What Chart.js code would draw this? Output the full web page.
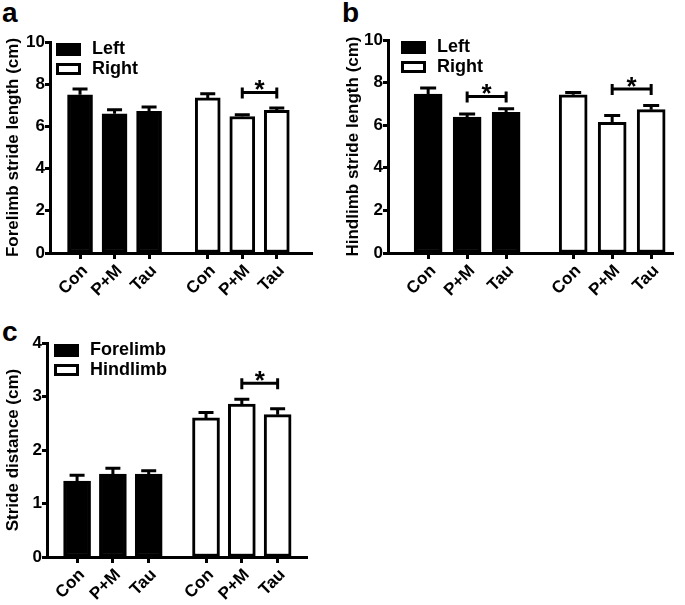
<!DOCTYPE html>
<html>
<head>
<meta charset="utf-8">
<script src="https://cdn.jsdelivr.net/npm/chart.js@4.4.1/dist/chart.umd.min.js"></script>
<style>
  html, body { margin: 0; padding: 0; background: #fff; }
  body { width: 685px; height: 605px; position: relative; overflow: hidden; }
  .wrap { position: absolute; }
  .letter { position: absolute; font: bold 28px "Liberation Sans", Arial, sans-serif; color: #000; line-height: 1; }
</style>
</head>
<body>
<div class="letter" style="left:2px;top:-1px;">a</div>
<div class="letter" style="left:342px;top:-1px;">b</div>
<div class="letter" style="left:2px;top:318px;">c</div>
<div class="wrap" style="left:0;top:0;width:340px;height:300px;"><canvas id="ca"></canvas></div>
<div class="wrap" style="left:340px;top:0;width:345px;height:300px;"><canvas id="cb"></canvas></div>
<div class="wrap" style="left:0;top:300px;width:340px;height:305px;"><canvas id="cc"></canvas></div>
<script>
// ---- data ----
const categories = ['Con', 'P+M', 'Tau'];

const aSeries = ['Left', 'Right'];
const aLeft = [7.50, 6.60, 6.71];
const aLeftSem = [0.27, 0.19, 0.21];
const aRight = [7.35, 6.47, 6.76];
const aRightSem = [0.20, 0.08, 0.11];
const aTicks = [0, 2, 4, 6, 8, 10];
const aSig = [{ group: 1, from: 1, to: 2, y: 7.61 }];

const bSeries = ['Left', 'Right'];
const bLeft = [7.46, 6.38, 6.60];
const bLeftSem = [0.29, 0.14, 0.17];
const bRight = [7.43, 6.13, 6.73];
const bRightSem = [0.11, 0.32, 0.19];
const bTicks = [0, 2, 4, 6, 8, 10];
const bSig = [{ group: 0, from: 1, to: 2, y: 7.35 }, { group: 1, from: 1, to: 2, y: 7.70 }];

const cSeries = ['Forelimb', 'Hindlimb'];
const cFore = [1.42, 1.55, 1.55];
const cForeSem = [0.11, 0.11, 0.06];
const cHind = [2.60, 2.86, 2.66];
const cHindSem = [0.10, 0.09, 0.11];
const cTicks = [0, 1, 2, 3, 4];
const cSig = [{ group: 1, from: 1, to: 2, y: 3.25 }];

// ---- rendering ----
const FONT = '"Liberation Sans", Arial, sans-serif';

function makeChart(id, cfg) {
  const pos = (g, i) => i + g * cfg.groupGap;
  const positions = [0, 1, 2].map(i => pos(0, i)).concat([0, 1, 2].map(i => pos(1, i)));
  const labels = categories.concat(categories);

  const errPlugin = {
    id: 'err',
    afterDatasetsDraw(chart) {
      const ctx = chart.ctx, ys = chart.scales.y, xs = chart.scales.x;
      ctx.save();
      ctx.strokeStyle = '#000';
      ctx.lineWidth = 3;
      chart.data.datasets.forEach((ds, di) => {
        const meta = chart.getDatasetMeta(di);
        meta.data.forEach((bar, i) => {
          const v = ds.data[i].y, s = ds.sem[i];
          const top = ys.getPixelForValue(v);
          const e = ys.getPixelForValue(v + s);
          const x = bar.x, hw = cfg.capW / 2;
          ctx.beginPath();
          ctx.moveTo(x, top); ctx.lineTo(x, e);
          ctx.moveTo(x - hw, e); ctx.lineTo(x + hw, e);
          ctx.stroke();
        });
      });
      // significance brackets
      ctx.font = 'bold 26px ' + FONT;
      ctx.fillStyle = '#000';
      ctx.textAlign = 'center';
      ctx.textBaseline = 'alphabetic';
      cfg.sig.forEach(sg => {
        const x1 = xs.getPixelForValue(pos(sg.group, sg.from));
        const x2 = xs.getPixelForValue(pos(sg.group, sg.to));
        const y = ys.getPixelForValue(sg.y);
        ctx.beginPath();
        ctx.moveTo(x1, y); ctx.lineTo(x2, y);
        ctx.moveTo(x1, y - 5); ctx.lineTo(x1, y + 6);
        ctx.moveTo(x2, y - 5); ctx.lineTo(x2, y + 6);
        ctx.stroke();
        ctx.fillText('*', (x1 + x2) / 2, y + 6);
      });
      ctx.restore();
    },
    afterDraw(chart) {
      // legend
      const ctx = chart.ctx, ca = chart.chartArea;
      ctx.save();
      ctx.font = 'bold 18px ' + FONT;
      ctx.textBaseline = 'middle';
      ctx.textAlign = 'left';
      cfg.series.forEach((name, k) => {
        const bx = ca.left + cfg.legX, by = ca.top + 1 + k * 20;
        if (k === 0) {
          ctx.fillStyle = '#000';
          ctx.fillRect(bx, by, 25, 13);
        } else {
          ctx.fillStyle = '#fff';
          ctx.fillRect(bx, by, 25, 11);
          ctx.strokeStyle = '#000';
          ctx.lineWidth = 3;
          ctx.strokeRect(bx + 1.5, by + 1.5, 22, 9);
        }
        ctx.fillStyle = '#000';
        ctx.fillText(name, bx + 36, by + 6.5);
      });
      ctx.restore();
    }
  };

  return new Chart(document.getElementById(id), {
    type: 'bar',
    data: {
      datasets: [
        {
          label: cfg.series[0],
          data: cfg.v0.map((v, i) => ({ x: pos(0, i), y: v })),
          sem: cfg.s0,
          backgroundColor: '#000', borderColor: '#000'
        },
        {
          label: cfg.series[1],
          data: cfg.v1.map((v, i) => ({ x: pos(1, i), y: v })),
          sem: cfg.s1,
          backgroundColor: '#fff', borderColor: '#000'
        }
      ]
    },
    options: {
      responsive: true,
      maintainAspectRatio: false,
      animation: false,
      events: [],
      layout: { padding: { top: cfg.padTop, right: cfg.padRight, left: 0, bottom: 0 } },
      datasets: { bar: { barThickness: cfg.barW, grouped: false, borderWidth: 3, borderSkipped: false } },
      plugins: { legend: { display: false }, tooltip: { enabled: false } },
      scales: {
        x: {
          type: 'linear',
          min: cfg.xMin, max: cfg.xMax,
          offset: false,
          afterBuildTicks: s => { s.ticks = positions.map(v => ({ value: v })); },
          afterFit: s => { s.height = cfg.xH; },
          grid: { display: true, drawOnChartArea: false, offset: false, tickLength: 6, tickWidth: 3, tickColor: '#000' },
          border: { display: true, color: '#000', width: 3 },
          ticks: {
            autoSkip: false, minRotation: 45, maxRotation: 45, padding: 2, labelOffset: 5,
            color: '#000', font: { family: FONT, weight: 'bold', size: 17 },
            callback: (v, i) => labels[i]
          }
        },
        y: {
          min: 0, max: cfg.yTicks[cfg.yTicks.length - 1],
          afterBuildTicks: s => { s.ticks = cfg.yTicks.map(v => ({ value: v })); },
          afterFit: s => { s.width = cfg.yW; },
          grid: { display: true, drawOnChartArea: false, tickLength: 5, tickWidth: 3, tickColor: '#000' },
          border: { display: true, color: '#000', width: 3 },
          ticks: { padding: 0, color: '#000', font: { family: FONT, weight: 'bold', size: 17 } },
          title: {
            display: true, text: cfg.yTitle, color: '#000',
            font: { family: FONT, weight: 'bold', size: 17 }, padding: { top: 3, bottom: 0 }
          }
        }
      }
    },
    plugins: [errPlugin]
  });
}

makeChart('ca', {
  series: aSeries, v0: aLeft, s0: aLeftSem, v1: aRight, s1: aRightSem,
  yTicks: aTicks, sig: aSig, yTitle: 'Forelimb stride length (cm)',
  groupGap: 3.7, xMin: -0.87, xMax: 6.72, barW: 25, capW: 15,
  padTop: 42, padRight: 28, yW: 50, xH: 47, legX: 6
});
makeChart('cb', {
  series: bSeries, v0: bLeft, s0: bLeftSem, v1: bRight, s1: bRightSem,
  yTicks: bTicks, sig: bSig, yTitle: 'Hindlimb stride length (cm)',
  groupGap: 3.72, xMin: -1.03, xMax: 6.28, barW: 28, capW: 16,
  padTop: 40, padRight: 12, yW: 48, xH: 47, legX: 13
});
makeChart('cc', {
  series: cSeries, v0: cFore, s0: cForeSem, v1: cHind, s1: cHindSem,
  yTicks: cTicks, sig: cSig, yTitle: 'Stride distance (cm)',
  groupGap: 3.6, xMin: -0.84, xMax: 6.42, barW: 27, capW: 15,
  padTop: 43, padRight: 33, yW: 47, xH: 48, legX: 7
});
</script>
</body>
</html>
